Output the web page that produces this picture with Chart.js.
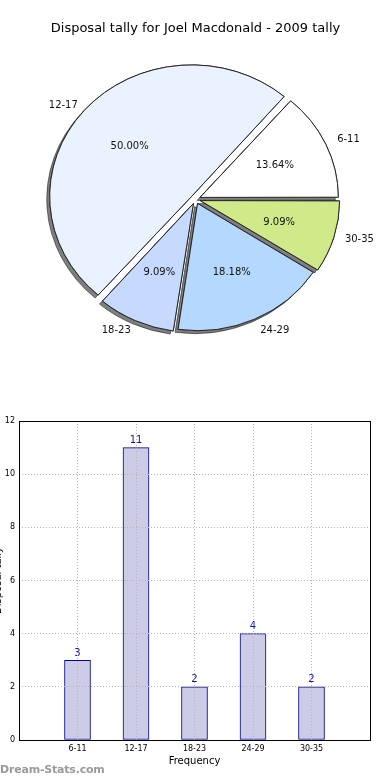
<!DOCTYPE html>
<html>
<head>
<meta charset="utf-8">
<script src="https://cdn.jsdelivr.net/npm/chart.js@4"></script>
<style>
  body { margin: 0; background: #fff; width: 390px; height: 780px; overflow: hidden; position: relative; }
  #pie { position: absolute; left: 0; top: 0; }
  #bars { position: absolute; left: -12px; top: 400px; }
  .brand { position: absolute; left: 0; top: 763px; font: bold 11px 'DejaVu Sans', sans-serif; color: #9a9a9a; letter-spacing: -0.2px; }
</style>
</head>
<body>
<canvas id="pie" width="390" height="390"></canvas>
<canvas id="bars" width="402" height="380"></canvas>
<div class="brand">Dream-Stats.com</div>
<script>
const chartTitle = 'Disposal tally for Joel Macdonald - 2009 tally';
const categories = ['6-11', '12-17', '18-23', '24-29', '30-35'];
const counts = [3, 11, 2, 4, 2];
const yTicks = [0, 2, 4, 6, 8, 10, 12];
const xTitle = 'Frequency';
const yTitle = 'Disposal tally';

const sliceColors = ['#ffffff', '#eaf2ff', '#c6d9ff', '#b5d8ff', '#d0ea8a'];
const FONT = "'DejaVu Sans', sans-serif";
const total = counts.reduce((a, b) => a + b, 0);

// original pie runs counter-clockwise from 3 o'clock, chart.js runs clockwise
const pieLabels = categories.slice().reverse();
const pieValues = counts.slice().reverse();
const pieColors = sliceColors.slice().reverse();

const SQUASH = 0.925;  // original pie is a bit wider than tall
const OFFSET = 20;     // arc offset, chart.js moves the slice by offset/4

const pieLook = {
    id: 'pieLook',
    beforeDatasetsDraw(chart) {
        const ctx = chart.ctx;
        const arcs = chart.getDatasetMeta(0).data;
        const cx = arcs[0].x, cy = arcs[0].y;
        ctx.save();
        ctx.translate(cx, cy);
        ctx.scale(1, SQUASH);
        ctx.translate(-cx, -cy);
        // shadows under every slice first
        ctx.save();
        ctx.shadowColor = 'rgba(0,0,0,0.5)';
        ctx.shadowOffsetX = -3;
        ctx.shadowOffsetY = 3;
        arcs.forEach(a => a.draw(ctx));
        ctx.restore();
    },
    afterDatasetsDraw(chart) {
        const ctx = chart.ctx;
        ctx.restore();
        const arcs = chart.getDatasetMeta(0).data;
        ctx.save();
        ctx.font = '10px ' + FONT;
        ctx.fillStyle = '#111';
        ctx.textBaseline = 'middle';
        arcs.forEach((a, i) => {
            const mid = (a.startAngle + a.endAngle) / 2;
            const pos = k => {
                const d = OFFSET / 4 + k * a.outerRadius;
                return [a.x + d * Math.cos(mid), a.y + d * Math.sin(mid) * SQUASH];
            };
            let [x, y] = pos(1.1);
            ctx.textAlign = Math.cos(mid) >= 0 ? 'left' : 'right';
            ctx.fillText(pieLabels[i], x, y);
            [x, y] = pos(0.6);
            ctx.textAlign = 'center';
            ctx.fillText((pieValues[i] / total * 100).toFixed(2) + '%', x, y);
        });
        ctx.restore();
    }
};

new Chart(document.getElementById('pie').getContext('2d'), {
    type: 'pie',
    data: {
        labels: pieLabels,
        datasets: [{
            data: pieValues,
            backgroundColor: pieColors,
            borderColor: '#222',
            borderWidth: 1,
            offset: OFFSET,
            hoverOffset: 0
        }]
    },
    options: {
        responsive: false,
        animation: false,
        devicePixelRatio: 1,
        rotation: 90,
        radius: 137,
        layout: { padding: { left: 1, right: 0, top: 0, bottom: 28 } },
        plugins: {
            legend: { display: false },
            tooltip: { enabled: false },
            title: {
                display: true,
                text: chartTitle,
                color: '#000',
                font: { family: FONT, size: 13, weight: 'normal' },
                padding: { top: 21, bottom: 0 }
            }
        }
    },
    plugins: [pieLook]
});

const frame = {
    id: 'frame',
    afterDraw(chart) {
        const { ctx, chartArea: a } = chart;
        ctx.save();
        ctx.strokeStyle = '#000';
        ctx.lineWidth = 1;
        ctx.strokeRect(Math.round(a.left) + 0.5, Math.round(a.top) + 0.5,
            Math.round(a.right - a.left), Math.round(a.bottom - a.top));
        ctx.restore();
    }
};

const barValues = {
    id: 'barValues',
    afterDatasetsDraw(chart) {
        const ctx = chart.ctx;
        ctx.save();
        ctx.font = '10px ' + FONT;
        ctx.fillStyle = '#1414a0';
        ctx.textAlign = 'center';
        ctx.textBaseline = 'bottom';
        chart.getDatasetMeta(0).data.forEach((bar, i) => {
            ctx.fillText(String(counts[i]), bar.x, bar.y - 2);
        });
        ctx.restore();
    }
};

const gridStyle = { color: '#b4b4b4', lineWidth: 1, drawTicks: false, offset: false, z: 1 };

new Chart(document.getElementById('bars').getContext('2d'), {
    type: 'bar',
    data: {
        datasets: [{
            data: counts.map((v, i) => ({ x: i + 1, y: v })),
            backgroundColor: '#cccce6',
            borderColor: '#00008b',
            borderWidth: 1,
            borderSkipped: false,
            barThickness: 26
        }]
    },
    options: {
        responsive: false,
        animation: false,
        devicePixelRatio: 1,
        layout: { padding: { left: 0, right: 20, top: 21, bottom: 0 } },
        plugins: { legend: { display: false }, tooltip: { enabled: false } },
        scales: {
            x: {
                type: 'linear',
                offset: false,
                min: 0,
                max: categories.length + 1,
                afterBuildTicks: scale => { scale.ticks = categories.map((c, i) => ({ value: i + 1 })); },
                afterFit: scale => { scale.height = 40; },
                grid: gridStyle,
                border: { display: false, dash: [1, 2] },
                ticks: {
                    autoSkip: false, maxRotation: 0, padding: 4, color: '#000',
                    font: { family: FONT, size: 8 },
                    callback: v => categories[v - 1] || ''
                },
                title: {
                    display: true, text: xTitle, color: '#000',
                    font: { family: FONT, size: 10 },
                    padding: { top: 0, bottom: 13 }
                }
            },
            y: {
                min: yTicks[0],
                max: yTicks[yTicks.length - 1],
                afterBuildTicks: scale => { scale.ticks = yTicks.map(v => ({ value: v })); },
                afterFit: scale => { scale.width = 31; },
                grid: gridStyle,
                border: { display: false, dash: [1, 2] },
                ticks: { padding: 4, color: '#000', font: { family: FONT, size: 8 } },
                title: {
                    display: true, text: yTitle, color: '#000',
                    font: { family: FONT, size: 10 },
                    padding: { top: 4, bottom: 0 }
                }
            }
        }
    },
    plugins: [frame, barValues]
});
</script>
</body>
</html>
